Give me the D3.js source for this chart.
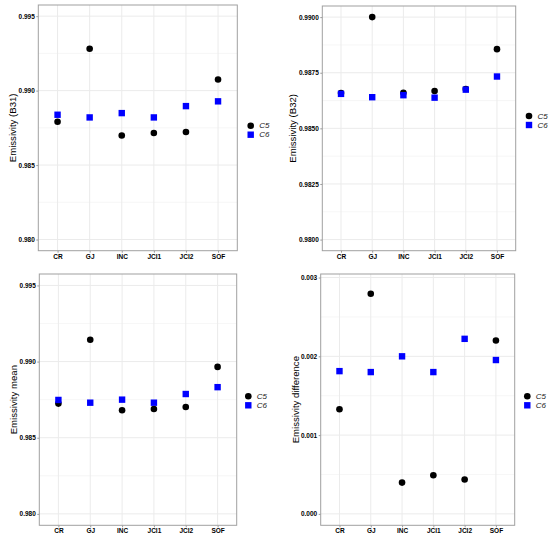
<!DOCTYPE html>
<html>
<head>
<meta charset="utf-8">
<script src="https://cdn.jsdelivr.net/npm/d3@7"></script>
<style>
  body { margin: 0; background: #fff; }
  svg { display: block; font-family: "Liberation Sans", Arial, sans-serif; }
</style>
</head>
<body>
<svg id="chart"></svg>
<script>
// categories and series
var categories = ["CR", "GJ", "INC", "JCI1", "JCI2", "SOF"];
var seriesNames = ["C5", "C6"];

// emissivity B31
var b31C5 = [0.98791, 0.99281, 0.98699, 0.98715, 0.98722, 0.99075];
var b31C6 = [0.98838, 0.98820, 0.98849, 0.98820, 0.98896, 0.98928];
var b31Ticks = [0.980, 0.985, 0.990, 0.995];
var b31Limits = [0.980, 0.995];

// emissivity B32
var b32C5 = [0.98659, 0.99000, 0.98660, 0.98668, 0.98677, 0.98856];
var b32C6 = [0.98655, 0.98640, 0.98649, 0.98638, 0.98674, 0.98733];
var b32Ticks = [0.9800, 0.9825, 0.9850, 0.9875, 0.9900];
var b32Limits = [0.980, 0.990];

// emissivity mean
var meanC5 = [0.98724, 0.99143, 0.98680, 0.98689, 0.98702, 0.98965];
var meanC6 = [0.98748, 0.98730, 0.98750, 0.98730, 0.98787, 0.98832];
var meanTicks = [0.980, 0.985, 0.990, 0.995];
var meanLimits = [0.980, 0.995];

// emissivity difference
var diffC5 = [0.001328, 0.002795, 0.000397, 0.000491, 0.000436, 0.002200];
var diffC6 = [0.001812, 0.001800, 0.002000, 0.001800, 0.002222, 0.001953];
var diffTicks = [0.000, 0.001, 0.002, 0.003];
var diffLimits = [0.000, 0.0029];

var W = 550, H = 538;
var svg = d3.select("#chart").attr("width", W).attr("height", H);

// panel layouts (pixel boxes)
var panels = [
    {x0: 0, y0: 0, left: 38.3, right: 237.3, top: 5, bottom: 250.7,
     title: "Emissivity (B31)", titleX: 12.5, c5: b31C5, c6: b31C6,
     ticks: b31Ticks, limits: b31Limits, fmt: ".3f", legX: 250.7, legY: 125.7},
    {x0: 275, y0: 0, left: 47.3, right: 240.7, top: 6, bottom: 250.7,
     title: "Emissivity (B32)", titleX: 17.5, c5: b32C5, c6: b32C6,
     ticks: b32Ticks, limits: b32Limits, fmt: ".4f", legX: 254, legY: 116},
    {x0: 0, y0: 268, left: 39.3, right: 236.7, top: 6, bottom: 257.3,
     title: "Emissivity mean", titleX: 13, c5: meanC5, c6: meanC6,
     ticks: meanTicks, limits: meanLimits, fmt: ".3f", legX: 248.3, legY: 128.3},
    {x0: 275, y0: 268, left: 45.7, right: 239.7, top: 6, bottom: 257.3,
     title: "Emissivity difference", titleX: 20.3, c5: diffC5, c6: diffC6,
     ticks: diffTicks, limits: diffLimits, fmt: ".3f", legX: 252.3, legY: 128.3}
];

panels.forEach(drawPanel);

function drawPanel(p) {
    var g = svg.append("g")
        .attr("transform", "translate(" + p.x0 + "," + p.y0 + ")");

    // ggplot style expansion: 5% on continuous, 0.6 on discrete
    var span = p.limits[1] - p.limits[0];
    var y = d3.scaleLinear()
        .domain([p.limits[0] - span * 0.05, p.limits[1] + span * 0.05])
        .range([p.bottom, p.top]);

    var xIdx = d3.scaleLinear()
        .domain([0.4, categories.length + 0.6])
        .range([p.left, p.right]);
    var x = function(c) { return xIdx(categories.indexOf(c) + 1); };

    // minor grid (half way between major ticks)
    var step = p.ticks[1] - p.ticks[0];
    var minor = p.ticks.map(function(t) { return t + step / 2; })
        .concat([p.ticks[0] - step / 2])
        .filter(function(t) { return y(t) > p.top && y(t) < p.bottom; });

    g.selectAll(".minor").data(minor).enter().append("line")
        .attr("x1", p.left).attr("x2", p.right)
        .attr("y1", function(d) { return y(d); })
        .attr("y2", function(d) { return y(d); })
        .attr("stroke", "#f2f2f2").attr("stroke-width", 0.7);

    g.selectAll(".majorY").data(p.ticks).enter().append("line")
        .attr("x1", p.left).attr("x2", p.right)
        .attr("y1", function(d) { return y(d); })
        .attr("y2", function(d) { return y(d); })
        .attr("stroke", "#ebebeb").attr("stroke-width", 1);

    g.selectAll(".majorX").data(categories).enter().append("line")
        .attr("x1", function(d) { return x(d); })
        .attr("x2", function(d) { return x(d); })
        .attr("y1", p.top).attr("y2", p.bottom)
        .attr("stroke", "#ebebeb").attr("stroke-width", 1);

    // axes
    var yAxis = g.append("g")
        .attr("transform", "translate(" + p.left + ",0)")
        .call(d3.axisLeft(y).tickValues(p.ticks).tickFormat(d3.format(p.fmt))
            .tickSize(2).tickPadding(1.5));
    var xAxis = g.append("g")
        .attr("transform", "translate(0," + p.bottom + ")")
        .call(d3.axisBottom(xIdx).tickValues(d3.range(1, categories.length + 1))
            .tickFormat(function(i) { return categories[i - 1]; })
            .tickSize(2).tickPadding(1.5));

    [yAxis, xAxis].forEach(function(a) {
        a.select(".domain").remove();
        a.selectAll(".tick line").attr("stroke", "#999");
        a.selectAll(".tick text")
            .attr("fill", "#000")
            .style("font-size", "6.5px")
            .style("font-weight", "bold")
            .style("font-family", "'Liberation Sans', Arial, sans-serif");
    });

    // panel border
    g.append("rect")
        .attr("x", p.left).attr("y", p.top)
        .attr("width", p.right - p.left).attr("height", p.bottom - p.top)
        .attr("fill", "none").attr("stroke", "#a0a0a0").attr("stroke-width", 1);

    // points
    g.selectAll(".c5").data(p.c5).enter().append("circle")
        .attr("cx", function(d, i) { return x(categories[i]); })
        .attr("cy", function(d) { return y(d); })
        .attr("r", 3.3)
        .attr("fill", "#000");

    g.selectAll(".c6").data(p.c6).enter().append("rect")
        .attr("x", function(d, i) { return x(categories[i]) - 3.2; })
        .attr("y", function(d) { return y(d) - 3.2; })
        .attr("width", 6.4).attr("height", 6.4)
        .attr("fill", "#0000ff");

    // y title
    g.append("text")
        .attr("transform", "translate(" + p.titleX + "," + ((p.top + p.bottom) / 2) + ") rotate(-90)")
        .attr("text-anchor", "middle")
        .attr("dominant-baseline", "central")
        .attr("fill", "#000")
        .style("font-size", "9.6px")
        .text(p.title);

    // legend
    var leg = g.append("g").attr("transform", "translate(" + p.legX + "," + p.legY + ")");
    seriesNames.forEach(function(name, i) {
        var row = leg.append("g").attr("transform", "translate(0," + (i * 9) + ")");
        if (i === 0) {
            row.append("circle").attr("r", 3.3).attr("fill", "#000");
        } else {
            row.append("rect").attr("x", -3.2).attr("y", -3.2)
                .attr("width", 6.4).attr("height", 6.4).attr("fill", "#0000ff");
        }
        row.append("text")
            .attr("x", 8.5).attr("dominant-baseline", "central")
            .attr("fill", "#1a1a1a")
            .style("font-size", "8px").style("font-style", "italic")
            .text(name);
    });
}
</script>
</body>
</html>
